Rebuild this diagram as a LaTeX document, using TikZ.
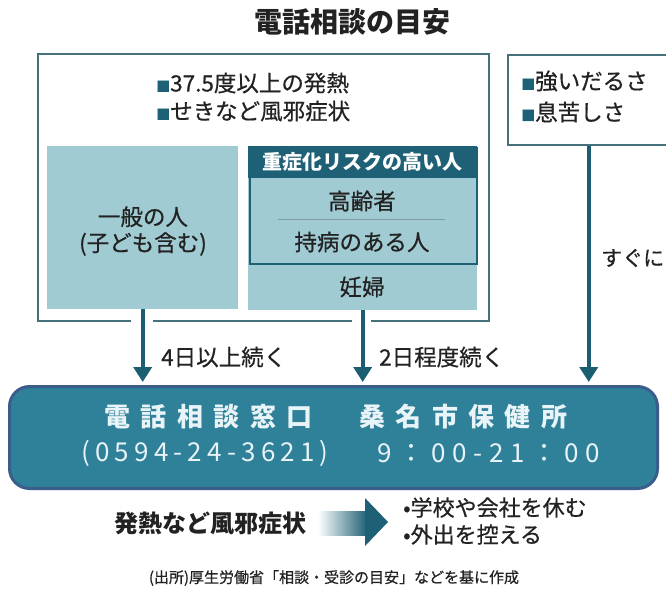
\documentclass[tikz,border=0pt]{standalone}
\usepackage{fontspec}
\setmainfont{Noto Sans CJK JP}
\newfontfamily\jpm{Noto Sans CJK JP}[FakeBold=0.6]
\newfontfamily\jpwide{Noto Sans CJK JP}[LetterSpace=40]
\newfontfamily\jpnum{Noto Sans CJK JP}[LetterSpace=26]
\newfontfamily\jptel{Noto Sans CJK JP}[LetterSpace=20]
\usetikzlibrary{arrows.meta}
\definecolor{frame}{HTML}{45707C}
\definecolor{light}{HTML}{A0CBD2}
\definecolor{dark}{HTML}{1E6176}
\definecolor{arrowc}{HTML}{1B5E72}
\definecolor{mainfill}{HTML}{2F8099}
\definecolor{mainborder}{HTML}{3B5D8C}
\definecolor{txt}{HTML}{222222}
\definecolor{mtext}{HTML}{E8F4F7}
\newcommand\fsz[2]{\fontsize{#1pt}{#2pt}\selectfont}
\newcommand\sq{{\fsz{14}{14}\textcolor{dark}{■}}}
\tikzset{
  lbl/.style={text=txt, inner sep=0pt},
  body/.style={lbl, font=\jpm\fsz{22.5}{26}},
  arr/.style={arrowc, line width=4pt, -{Triangle[width=18pt,length=15pt]}, shorten >=3pt},
  panel/.style={fill=light, inner sep=0pt, anchor=north west},
}
\begin{document}
\begin{tikzpicture}[x=1pt,y=-1pt]
\useasboundingbox[fill=white] (0,0) rectangle (666,595);
% title
\node[lbl, font=\fsz{28}{32}\bfseries] (title) at (352,22) {電話相談の目安};
% big box
\node[draw=frame, line width=1.5pt, inner sep=0pt, anchor=north west, minimum width=451pt, minimum height=267pt] (big) at (37,53) {};
\fill[white] (131,316) rectangle (153,324);
\fill[white] (352,316) rectangle (371,324);
\node[body, anchor=west] (s1) at (156,83) {\sq 37.5度以上の発熱};
\node[body, anchor=west] (s2) at (156,111) {\sq せきなど風邪症状};
% general people
\node[panel, minimum width=191pt, minimum height=163pt] (gen) at (47,146) {};
\node[body, align=center, font=\jpm\fsz{22.5}{26}] (gent) at (143,231) {一般の人\\(子ども含む)};
% risk column
\node[panel, minimum width=229pt, minimum height=164pt] (riskcol) at (248,146) {};
\node[draw=dark, line width=2pt, inner sep=0pt, anchor=north west, minimum width=227pt, minimum height=116pt] (riskframe) at (249,147) {};
\node[fill=dark, text=white, inner sep=0pt, anchor=north west, minimum width=229pt, minimum height=32pt, font=\fsz{20}{24}\bfseries] (hdr) at (248,146) {重症化リスクの高い人};
\node[body] (old) at (362,201) {高齢者};
\draw[frame!70, line width=1pt] (278,219) -- (445,219);
\node[body] (chronic) at (362,242) {持病のある人};
\node[body] (preg) at (362,287) {妊婦};
% right box
\node[draw=frame, line width=1.5pt, inner sep=0pt, anchor=north west, minimum width=162pt, minimum height=90pt] (rbox) at (507,54) {};
\node[body, anchor=west] (r1) at (521,81) {\sq 強いだるさ};
\node[body, anchor=west] (r2) at (521,112) {\sq 息苦しさ};
% main box
\node[draw=mainborder, line width=3pt, fill=mainfill, rounded corners=20pt, inner sep=0pt, anchor=north west, minimum width=648pt, minimum height=102pt] (main) at (8,385) {};
\node[text=mtext, inner sep=0pt, font=\jpwide\fsz{26}{30}\bfseries] (mt1) at (336,417) {電話相談窓口　桑名市保健所};
\node[text=mtext, inner sep=0pt, anchor=west, font=\jptel\fsz{26}{30}] (tel) at (81,453) {(0594-24-3621)};
\node[text=mtext, inner sep=0pt, anchor=west, font=\jpnum\fsz{26}{30}] (hours) at (377,453) {9：00-21：00};
% arrows
\draw[arr] (gen.south) -- (gen.south |- main.north);
\draw[arr] (riskcol.south) -- (riskcol.south |- main.north);
\draw[arr] (rbox.south) -- (rbox.south |- main.north);
\node[body, anchor=west] (l1) at (161,357) {4日以上続く};
\node[body, anchor=west] (l2) at (379,357) {2日程度続く};
\node[body, anchor=west, font=\jpm\fsz{21}{25}] (l3) at (601,258) {すぐに};
% bottom
\node[lbl, font=\fsz{24}{28}\bfseries] (cold) at (210,523) {発熱など風邪症状};
\shade[left color=white, right color=dark] (318,511) rectangle (367,535);
\fill[dark] (365,498) -- (388,522) -- (365,546) -- cycle;
\node[lbl, anchor=west, align=left, font=\jpm\fsz{22}{27}] (acts) at (403,521) {•学校や会社を休む\\•外出を控える};
\node[lbl, font=\jpm\fsz{15}{18}] (src) at (334,578) {(出所)厚生労働省「相談・受診の目安」などを基に作成};
\end{tikzpicture}
\end{document}
